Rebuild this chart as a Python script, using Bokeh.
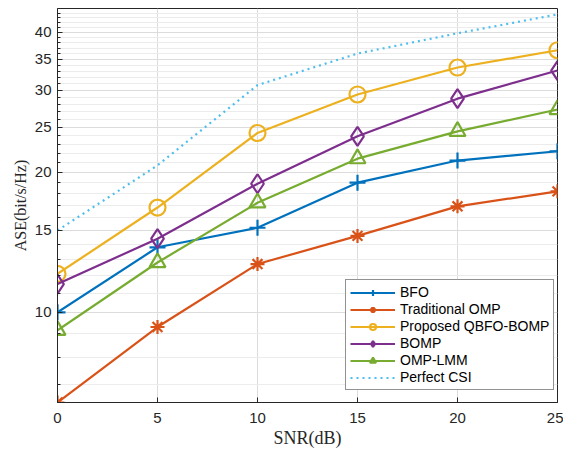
from bokeh.plotting import figure
from bokeh.models import Range1d, FixedTicker, Legend, LegendItem
from bokeh.embed import file_html
from bokeh.resources import INLINE

snr = [0, 5, 10, 15, 20, 25]
bfo = [10.0, 13.8, 15.2, 19.0, 21.2, 22.2]
trad_omp = [6.4, 9.3, 12.7, 14.6, 16.9, 18.2]
qbfo_bomp = [12.1, 16.8, 24.3, 29.4, 33.6, 36.6]
bomp = [11.5, 14.4, 18.9, 23.9, 28.8, 33.1]
omp_lmm = [9.15, 12.8, 17.2, 21.4, 24.5, 27.3]
perfect_csi = [15.0, 20.7, 30.8, 36.0, 39.8, 43.7]

x_ticks = [0, 5, 10, 15, 20, 25]
y_ticks = [10, 15, 20, 25, 30, 35, 40]
y_minor = [7, 8, 9] + [v for v in range(11, 45) if v not in y_ticks]

p = figure(width=563, height=451, y_axis_type="log",
           x_range=Range1d(0, 25), y_range=Range1d(6.4, 45),
           output_backend="svg", toolbar_location=None,
           min_border_left=57, min_border_top=8, min_border_right=6,
           min_border_bottom=49)

p.outline_line_color = "#262626"
p.outline_line_width = 1

for ax in p.xaxis:
    ax.ticker = FixedTicker(ticks=x_ticks)
for ax in p.yaxis:
    ax.ticker = FixedTicker(ticks=y_ticks, minor_ticks=y_minor)

for ax in list(p.xaxis) + list(p.yaxis):
    ax.major_tick_in = 5
    ax.major_tick_out = 0
    ax.minor_tick_in = 3
    ax.minor_tick_out = 0
    ax.axis_line_color = "#262626"
    ax.major_tick_line_color = "#262626"
    ax.minor_tick_line_color = "#262626"
    ax.major_label_text_font = "Liberation Sans"
    ax.major_label_text_font_size = "15px"
    ax.major_label_text_color = "#262626"
    ax.axis_label_text_font = "Liberation Serif"
    ax.axis_label_text_font_style = "normal"
    ax.axis_label_text_color = "#262626"

p.xaxis.axis_label = "SNR(dB)"
p.yaxis.axis_label = "ASE(bit/s/Hz)"
p.xaxis.axis_label_text_font_size = "18px"
p.yaxis.axis_label_text_font_size = "16px"
p.xaxis.major_label_standoff = 10
p.xaxis.axis_label_standoff = 2
p.yaxis.major_label_standoff = 6
p.yaxis.axis_label_standoff = 3

p.xgrid.grid_line_color = "#dcdcdc"
p.ygrid.grid_line_color = "#dcdcdc"
p.ygrid.minor_grid_line_color = "#ececec"

items = []
def series(ys, color, marker, label, size, dash="solid"):
    r1 = p.line(snr, ys, line_color=color, line_width=2.2, line_dash=dash)
    rs = [r1]
    if marker:
        r2 = p.scatter(snr, ys, marker=marker, size=size, line_color=color,
                       fill_color=None, line_width=2.2)
        rs.append(r2)
    items.append(LegendItem(label=label, renderers=rs))

series(bfo, "#0072BD", "cross", "BFO", 16)
series(trad_omp, "#D95319", "asterisk", "Traditional OMP", 14)
series(qbfo_bomp, "#EDB120", "circle", "Proposed QBFO-BOMP", 16)
series(bomp, "#7E2F8E", "diamond", "BOMP", 19)
series(omp_lmm, "#77AC30", "triangle", "OMP-LMM", 16)
series(perfect_csi, "#4DBEEE", None, "Perfect CSI", 0, dash="dotted")

legend = Legend(items=items, location=(288, 12))
legend.label_text_font = "Liberation Sans"
legend.label_text_font_size = "14px"
legend.label_text_color = "#000000"
legend.glyph_width = 45
legend.glyph_height = 15
legend.label_height = 15
legend.spacing = 1
legend.padding = 4
legend.margin = 0
legend.label_standoff = 5
legend.border_line_color = "#262626"
legend.border_line_width = 1
legend.background_fill_alpha = 1
p.add_layout(legend)

open("out.html", "w").write(file_html(p, INLINE))
